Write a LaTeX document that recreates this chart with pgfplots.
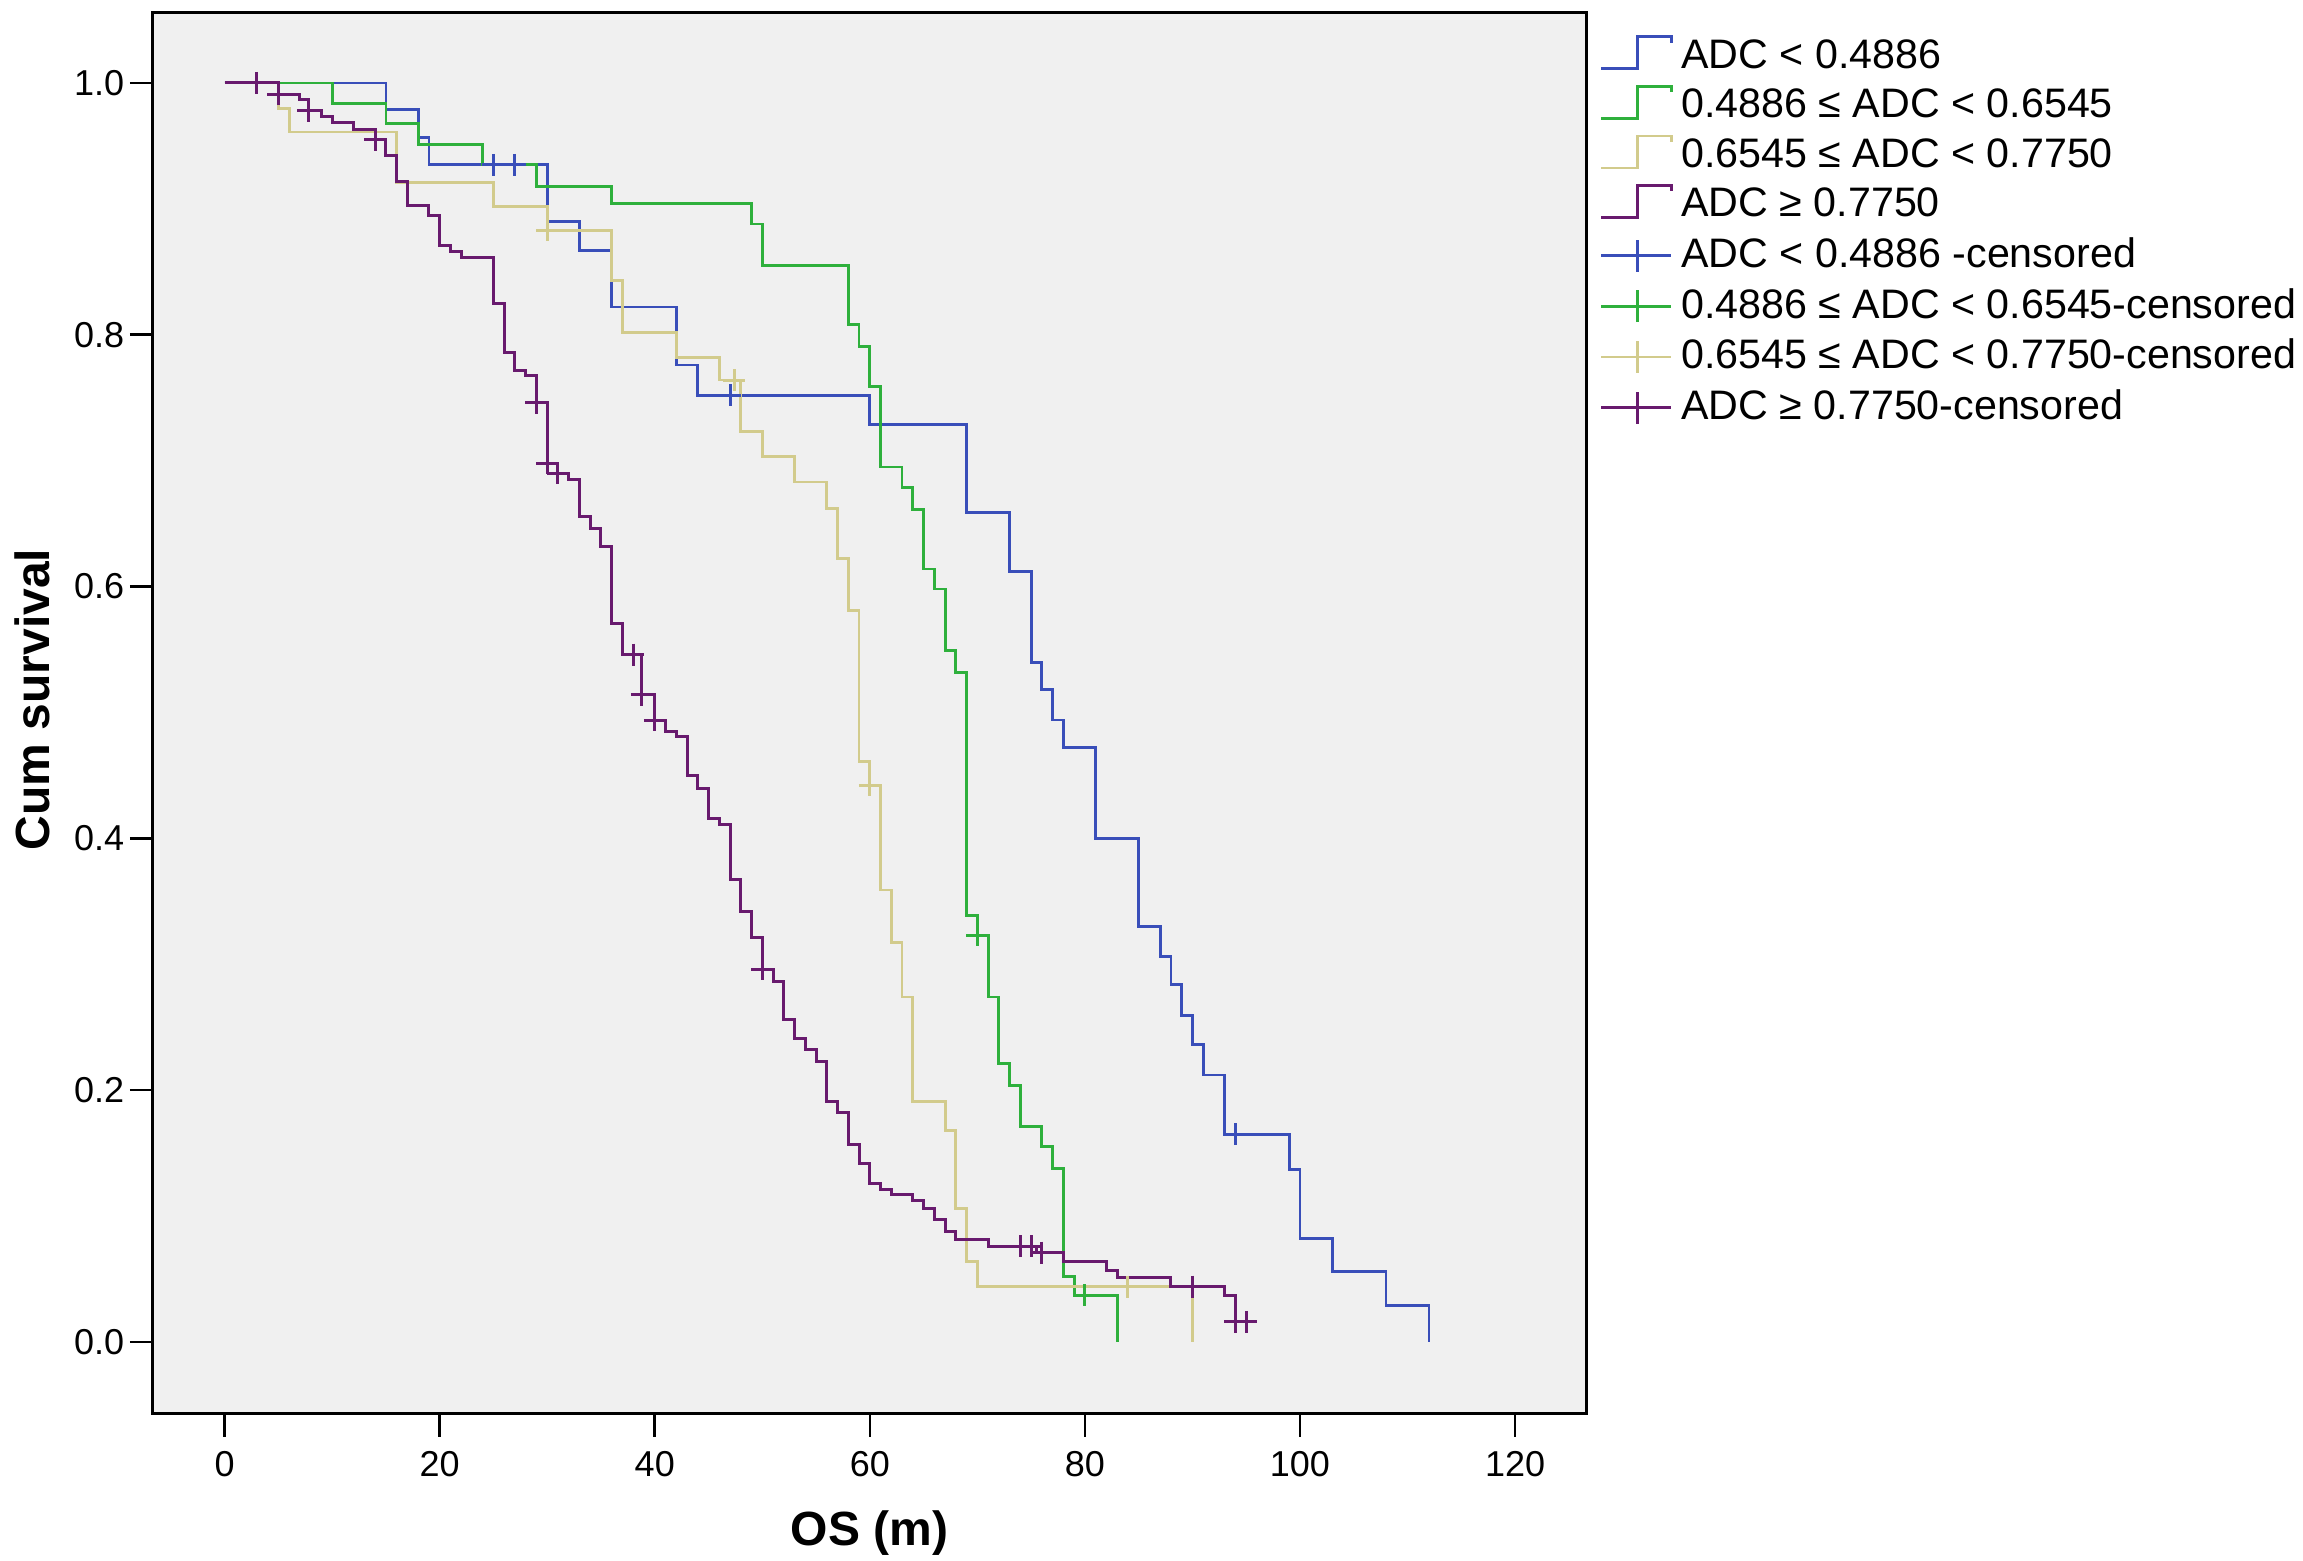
\documentclass[border=0pt]{standalone}
\usepackage{fontspec}
\setmainfont{Liberation Sans}
\usepackage{pgfplots}
\pgfplotsset{compat=1.18}
\definecolor{cblue}{RGB}{57,78,185}
\definecolor{cgreen}{RGB}{46,176,60}
\definecolor{ctan}{RGB}{210,203,140}
\definecolor{cpurple}{RGB}{104,26,110}
\definecolor{bgray}{RGB}{240,240,240}
\pgfplotsset{
  kmstep/.style={legend image code/.code={\draw[#1,line width=0.7pt] (0pt,-3pt) -- (9pt,-3pt) -- (9pt,5pt) -- (17.5pt,5pt) -- (17.5pt,3.5pt);}},
  kmcens/.style={legend image code/.code={\draw[#1,line width=0.65pt] (0pt,0pt) -- (17.5pt,0pt); \draw[#1,line width=0.65pt] (9pt,-4pt) -- (9pt,4pt);}},
}
\begin{document}
\begin{tikzpicture}
\path[use as bounding box] (0pt,0pt) rectangle (575.75pt,390.25pt);
\begin{axis}[
  at={(38.25pt,36.75pt)}, anchor=south west,
  width=358.25pt, height=350.25pt, scale only axis,
  xmin=-6.66, xmax=126.6, ymin=-0.0572, ymax=1.0556,
  axis background/.style={fill=bgray},
  axis line style={black, line width=0.75pt},
  tick pos=left, tick align=outside, major tick length=5.75pt,
  tick style={black, line width=0.65pt},
  xtick={0,20,40,60,80,100,120},
  ytick={0,0.2,0.4,0.6,0.8,1.0},
  yticklabels={0.0,0.2,0.4,0.6,0.8,1.0},
  /pgf/number format/assume math mode=true,
  ticklabel style={font=\fontsize{9}{10}\selectfont},
  yticklabel style={inner xsep=1.25pt},
  xlabel={OS (m)}, ylabel={Cum survival},
  label style={font=\fontsize{12}{14}\selectfont\bfseries},
  xlabel style={at={(axis description cs:0.5,-0.085)}, anchor=center},
  ylabel style={at={(axis description cs:-0.0845,0.51)}, anchor=center},
  legend style={at={(axis description cs:1.0,1.0)}, anchor=north west, xshift=0.25pt, yshift=-2.4pt,
    draw=none, fill=none, font=\fontsize{10.3}{12}\selectfont, row sep=-0.3pt, column sep=0.2pt},
  legend cell align=left,
]
% ADC < 0.4886
\addplot[const plot, cblue, line width=0.7pt, kmstep=cblue] coordinates {
(0,1) (15,0.979) (18,0.957) (19,0.935) (30,0.890) (33,0.867) (36,0.822) (42,0.776) (44,0.752)
(60,0.729) (69,0.659) (73,0.612) (75,0.540) (76,0.518) (77,0.494) (78,0.472) (81,0.400)
(85,0.330) (87,0.306) (88,0.284) (89,0.259) (90,0.236) (91,0.212) (93,0.165) (99,0.137)
(100,0.082) (103,0.056) (108,0.029) (112,0)};
\addlegendentry{ADC < 0.4886}
% 0.4886 <= ADC < 0.6545
\addplot[const plot, cgreen, line width=0.7pt, kmstep=cgreen] coordinates {
(0,1) (10,0.984) (15,0.968) (18,0.951) (24,0.935) (29,0.918) (36,0.904) (49,0.888) (50,0.855)
(58,0.808) (59,0.791) (60,0.759) (61,0.695) (63,0.679) (64,0.661) (65,0.614) (66,0.598)
(67,0.549) (68,0.532) (69,0.339) (70,0.323) (71,0.274) (72,0.221) (73,0.204) (74,0.171)
(76,0.155) (77,0.138) (78,0.052) (79,0.037) (83,0)};
\addlegendentry{0.4886 ≤ ADC < 0.6545}
% 0.6545 <= ADC < 0.7750
\addplot[const plot, ctan, line width=0.7pt, kmstep=ctan] coordinates {
(0,1) (5,0.980) (6,0.961) (16,0.921) (25,0.902) (30,0.883) (36,0.843) (37,0.802) (42,0.782)
(46,0.764) (48,0.723) (50,0.703) (53,0.683) (56,0.662) (57,0.622) (58,0.581) (59,0.461)
(60,0.442) (61,0.359) (62,0.317) (63,0.274) (64,0.191) (67,0.168) (68,0.106) (69,0.064)
(70,0.044) (90,0)};
\addlegendentry{0.6545 ≤ ADC < 0.7750}
% ADC >= 0.7750
\addplot[const plot, cpurple, line width=0.75pt, kmstep=cpurple] coordinates {
(0,1) (5,0.991) (7,0.987) (7.8,0.978) (9,0.973) (10,0.969) (12,0.963) (14,0.955) (15,0.942)
(16,0.922) (17,0.903) (19,0.895) (20,0.871) (21,0.866) (22,0.861) (25,0.825) (26,0.786)
(27,0.772) (28,0.768) (29,0.746) (30,0.698) (31,0.690) (32,0.685) (33,0.656) (34,0.646)
(35,0.632) (36,0.571) (37,0.546) (38.8,0.514) (40,0.494) (41,0.485) (42,0.481) (43,0.450)
(44,0.440) (45,0.416) (46,0.411) (47,0.367) (48,0.342) (49,0.321) (50,0.296) (51,0.286)
(52,0.256) (53,0.241) (54,0.232) (55,0.223) (56,0.191) (57,0.182) (58,0.157) (59,0.142)
(60,0.126) (61,0.121) (62,0.117) (64,0.112) (65,0.106) (66,0.097) (67,0.088) (68,0.081)
(71,0.076) (75.5,0.071) (78,0.064) (82,0.057) (83,0.051) (88,0.044) (93,0.037) (94,0.016)
(95.3,0.016)};
\addlegendentry{ADC ≥ 0.7750}
% censored
\addplot[only marks, mark=+, mark size=2.75pt, cblue, line width=0.75pt, kmcens=cblue] coordinates {
(25,0.935) (27,0.935) (47,0.752) (94,0.165)};
\addlegendentry{ADC < 0.4886 -censored}
\addplot[only marks, mark=+, mark size=2.75pt, cgreen, line width=0.75pt, kmcens=cgreen] coordinates {
(70,0.323) (80,0.037)};
\addlegendentry{0.4886 ≤ ADC < 0.6545-censored}
\addplot[only marks, mark=+, mark size=2.75pt, ctan, line width=0.75pt, kmcens=ctan] coordinates {
(30,0.883) (47.4,0.764) (60,0.442) (84,0.044)};
\addlegendentry{0.6545 ≤ ADC < 0.7750-censored}
\addplot[only marks, mark=+, mark size=2.75pt, cpurple, line width=0.75pt, kmcens=cpurple] coordinates {
(3,1.0) (5,0.991) (7.8,0.978) (14,0.955) (29,0.746) (30,0.698) (31,0.690) (38,0.546)
(38.8,0.514) (40,0.494) (50,0.296) (74,0.076) (75,0.076) (76,0.071) (90,0.044) (94,0.016) (95,0.016)};
\addlegendentry{ADC ≥ 0.7750-censored}
\end{axis}
\end{tikzpicture}
\end{document}
